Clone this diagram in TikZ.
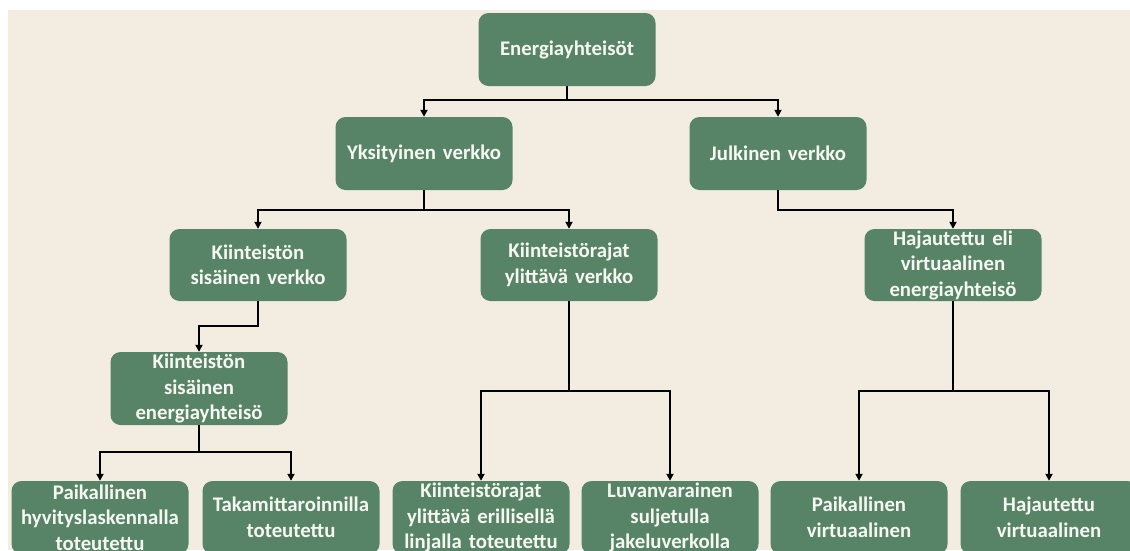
\documentclass[tikz,border=0pt]{standalone}
\usepackage{fontspec}
\setmainfont{Carlito}[BoldFont={Carlito Bold}]
\usetikzlibrary{arrows.meta}
\definecolor{bg}{HTML}{F3ECE1}
\definecolor{boxg}{HTML}{578467}
\definecolor{txt}{HTML}{F7F7F2}
\tikzset{
  gbox/.style={fill=boxg, rounded corners=10pt, minimum width=177pt, minimum height=73pt,
    inner sep=0pt, text width=177pt, align=center, text=txt,
    font=\fontsize{20.8}{25.5}\selectfont\bfseries},
  conn/.style={draw=black, line width=2pt, -{Triangle[length=7pt,width=7pt]}},
}
\begin{document}
\begin{tikzpicture}[x=1pt,y=-1pt]
\useasboundingbox (0,0) rectangle (1130,550);
\clip (0,0) rectangle (1130,550);
\fill[white] (0,0) rectangle (1130,550);
\fill[bg] (8,10) rectangle (1130,550);

\node[gbox] (root) at (567,49.5) {Energiayhteisöt};
\node[gbox] (yks) at (424,153.5) {Yksityinen verkko};
\node[gbox] (julk) at (778,153.5) {Julkinen verkko};
\node[gbox, minimum height=72pt] (ksv) at (258,265) {Kiinteistön\\sisäinen verkko};
\node[gbox, minimum height=72pt] (kyv) at (569,265) {Kiinteistörajat\\ylittävä verkko};
\node[gbox, minimum height=72pt] (haj) at (953,265) {Hajautettu eli\\virtuaalinen\\energiayhteisö};
\node[gbox] (kse) at (199,388.5) {Kiinteistön\\sisäinen\\energiayhteisö};
\node[gbox] (b1) at (100,517.5) {Paikallinen\\hyvityslaskennalla\\toteutettu};
\node[gbox] (b2) at (291,517.5) {Takamittaroinnilla\\toteutettu};
\node[gbox] (b3) at (481,517.5) {Kiinteistörajat\\ylittävä erillisellä\\linjalla toteutettu};
\node[gbox] (b4) at (670,517.5) {Luvanvarainen\\suljetulla\\jakeluverkolla};
\node[gbox] (b5) at (859,517.5) {Paikallinen\\virtuaalinen};
\node[gbox] (b6) at (1049,517.5) {Hajautettu\\virtuaalinen};

\coordinate (l1) at (0,100);
\coordinate (l2) at (0,210);
\coordinate (l3) at (0,326);
\coordinate (l4) at (0,452);
\coordinate (l5) at (0,391);

\draw[conn] (root.south) -- (root.south |- l1) -| (yks.north);
\draw[conn] (root.south) -- (root.south |- l1) -| (julk.north);
\draw[conn] (yks.south) -- (yks.south |- l2) -| (ksv.north);
\draw[conn] (yks.south) -- (yks.south |- l2) -| (kyv.north);
\draw[conn] (julk.south) -- (julk.south |- l2) -| (haj.north);
\draw[conn] (ksv.south) -- (ksv.south |- l3) -| (kse.north);
\draw[conn] (kse.south) -- (kse.south |- l4) -| (b1.north);
\draw[conn] (kse.south) -- (kse.south |- l4) -| (b2.north);
\draw[conn] (kyv.south) -- (kyv.south |- l5) -| (b3.north);
\draw[conn] (kyv.south) -- (kyv.south |- l5) -| (b4.north);
\draw[conn] (haj.south) -- (haj.south |- l5) -| (b5.north);
\draw[conn] (haj.south) -- (haj.south |- l5) -| (b6.north);
\end{tikzpicture}
\end{document}
